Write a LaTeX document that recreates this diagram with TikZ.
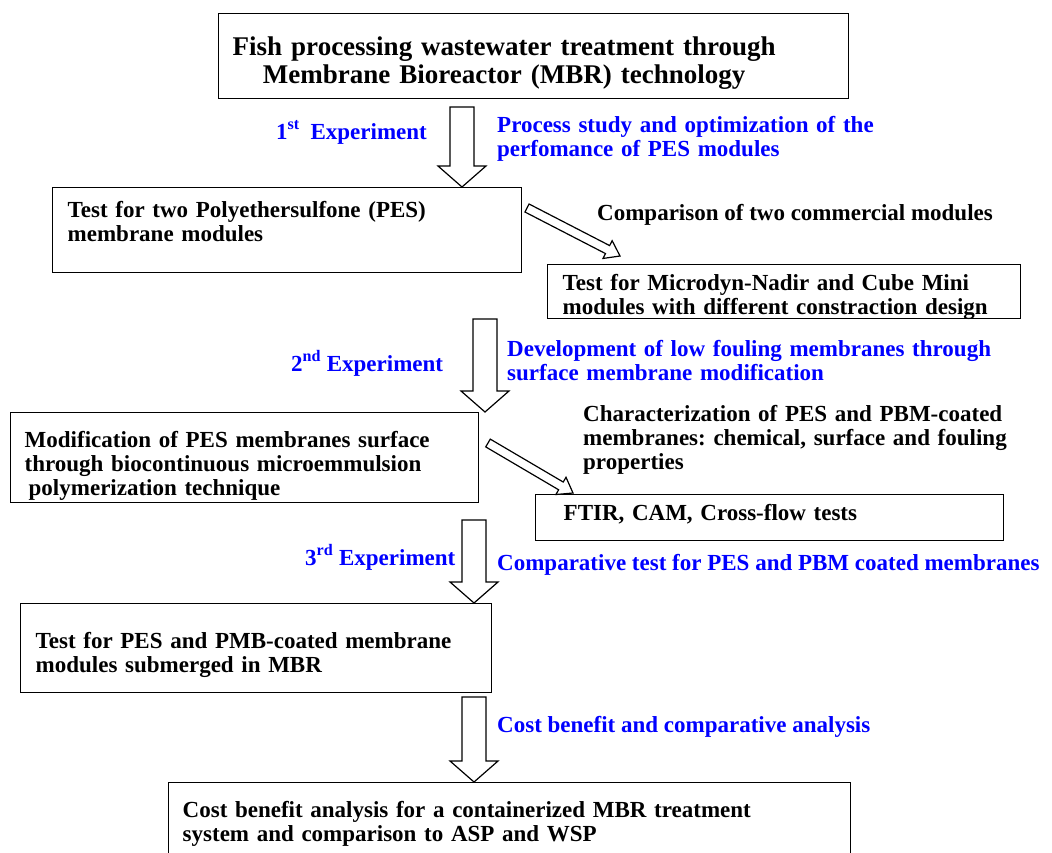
\documentclass[tikz,border=0pt]{standalone}
\usepackage{fontspec}
\setmainfont{Liberation Serif}
\usetikzlibrary{positioning,calc}
\frenchspacing

\newcommand{\bodyfont}{\fontsize{23}{24}\selectfont\bfseries}
\newcommand{\titlefont}{\fontsize{27}{28}\selectfont\bfseries}

\begin{document}
\begin{tikzpicture}[
    x=1pt, y=-1pt,
    box/.style={draw, line width=1.4pt, anchor=north west, align=left, inner xsep=15pt, inner ysep=0pt, font=\bodyfont},
    note/.style={anchor=base west, align=left, inner sep=0pt, font=\bodyfont, text=blue},
    plain/.style={note, text=black},
    hollow/.style n args={3}{draw, line width=1.2pt, fill=white, to path={
        ($(\tikztostart)!#1!90:(\tikztotarget)$)
        -- ($($(\tikztotarget)!#3!(\tikztostart)$)!#1!90:(\tikztotarget)$)
        -- ($($(\tikztotarget)!#3!(\tikztostart)$)!#2!90:(\tikztotarget)$)
        -- (\tikztotarget)
        -- ($($(\tikztotarget)!#3!(\tikztostart)$)!#2!-90:(\tikztotarget)$)
        -- ($($(\tikztotarget)!#3!(\tikztostart)$)!#1!-90:(\tikztotarget)$)
        -- ($(\tikztostart)!#1!-90:(\tikztotarget)$)
        -- cycle}},
    down/.style={hollow={12pt}{24pt}{21pt}},
    side/.style={hollow={4.5pt}{10pt}{14pt}}
]
\useasboundingbox (0,0) rectangle (1052,852);

% boxes
\node[box, font=\titlefont, inner xsep=14pt, text width=602pt, text height=42pt, text depth=43pt] (title) at (218,13)
    {\begin{tabular}[t]{@{}c@{}}Fish processing wastewater treatment through\\Membrane Bioreactor (MBR) technology\end{tabular}};
\node[box, text width=439pt, text height=30pt, text depth=55pt] (pes) at (52,187)
    {Test for two Polyethersulfone (PES)\\membrane modules};
\node[box, text width=443pt, text height=26pt, text depth=28pt] (mini) at (547,264)
    {Test for Microdyn-Nadir and Cube Mini\\modules with different constraction design};
\node[box, inner xsep=14pt, text width=440pt, text height=35pt, text depth=55pt] (modif) at (10,412)
    {Modification of PES membranes surface\\through biocontinuous microemmulsion\\\hspace*{4pt}polymerization technique};
\node[box, inner xsep=28pt, text width=412pt, text height=26pt, text depth=20pt] (ftir) at (535,494)
    {FTIR, CAM, Cross-flow tests};
\node[box, text width=441pt, text height=45pt, text depth=44pt] (mbr) at (20,603)
    {Test for PES and PMB-coated membrane\\modules submerged in MBR};
\node[box, inner xsep=14pt, text width=654pt, text height=35pt, text depth=45pt] (cost) at (168,782)
    {Cost benefit analysis for a containerized MBR treatment\\system and comparison to ASP and WSP};

% labels
\node[note] (exp1) at (276,139) {1\textsuperscript{st}\hspace{5pt} Experiment};
\node[note, text width=420pt] (proc) at (497,132) {Process study and optimization of the\\perfomance of PES modules};
\node[plain] (comp) at (597,220) {Comparison of two commercial modules};
\node[note] (exp2) at (291,371) {2\textsuperscript{nd} Experiment};
\node[note, text width=520pt] (devel) at (507,356) {Development of low fouling membranes through\\surface membrane modification};
\node[plain, text width=460pt] (charac) at (583,421) {Characterization of PES and PBM-coated\\membranes: chemical, surface and fouling\\properties};
\node[note] (exp3) at (305,565) {3\textsuperscript{rd} Experiment};
\node[note] (ctest) at (497,570) {Comparative test for PES and PBM coated membranes};
\node[note] (cblbl) at (497,732) {Cost benefit and comparative analysis};

% arrows
\coordinate (ax1) at (462,107);
\coordinate (ax2) at (485,319);
\coordinate (ax3) at (474,520);
\coordinate (ax4) at (474,697);
\coordinate (dx1) at (527,208);
\coordinate (dx2) at (488,443);

\draw[down] (ax1) to (pes.north -| ax1);
\draw[down] (ax2) to (modif.north -| ax2);
\draw[down] (ax3) to (mbr.north -| ax3);
\draw[down] (ax4) to (cost.north -| ax4);
\draw[side] (dx1) to ([xshift=73pt,yshift=8pt]mini.north west);
\draw[side] (dx2) to ([xshift=38pt,yshift=1pt]ftir.north west);
\end{tikzpicture}
\end{document}
